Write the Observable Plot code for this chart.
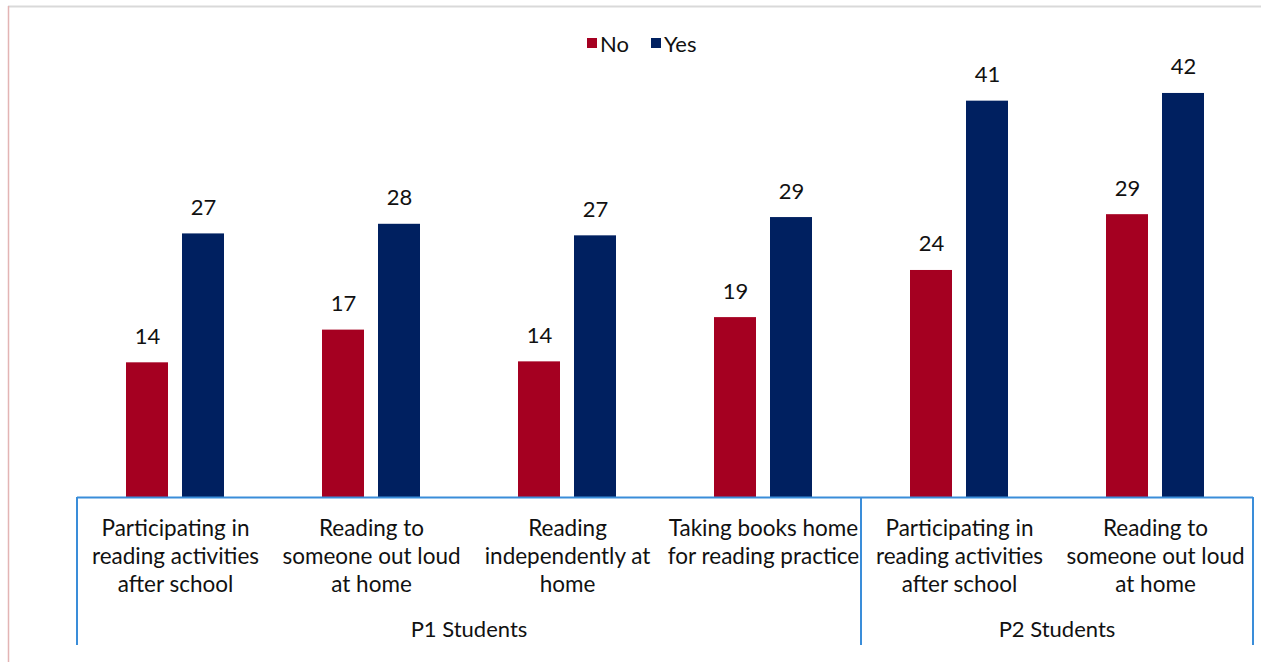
<!DOCTYPE html>
<html><head><meta charset="utf-8">
<script src="https://cdn.jsdelivr.net/npm/d3@7"></script>
<script src="https://cdn.jsdelivr.net/npm/@observablehq/plot@0.6"></script>
<style>body{margin:0;background:#fff;} svg{display:block}</style>
</head><body><div id="chart"></div>
<script>
const categoryKeys = ["p1a", "p1b", "p1c", "p1d", "p2a", "p2b"];
const categoryLabels = [
  "Participating in\nreading activities\nafter school",
  "Reading to\nsomeone out loud\nat home",
  "Reading\nindependently at\nhome",
  "Taking books home\nfor reading practice",
  "Participating in\nreading activities\nafter school",
  "Reading to\nsomeone out loud\nat home"
];
const groupOf = ["P1 Students", "P1 Students", "P1 Students", "P1 Students", "P2 Students", "P2 Students"];
const groups = ["P1 Students", "P2 Students"];
const answers = ["No", "Yes"];
const noValues = [14.0, 17.4, 14.1, 18.7, 23.6, 29.4];
const yesValues = [27.4, 28.4, 27.2, 29.1, 41.2, 42.0];
const colors = ["#a50021", "#002060"];

const rows = [];
categoryKeys.forEach((k, i) => {
  rows.push({key: k, group: groupOf[i], answer: "No", value: noValues[i]});
  rows.push({key: k, group: groupOf[i], answer: "Yes", value: yesValues[i]});
});
const labelOf = Object.fromEntries(categoryKeys.map((k, i) => [k, categoryLabels[i]]));

const W = 1261, H = 662;
const lineColor = "#3a8dd9";
const font = "Lato, 'Open Sans', sans-serif";

const plot = Plot.plot({
  width: W, height: H,
  marginLeft: 77, marginRight: 8, marginTop: 16, marginBottom: 165,
  style: {fontFamily: font, fontSize: "22px", color: "#111", background: "transparent"},
  facet: {marginTop: 0, marginBottom: 0, marginLeft: 0, marginRight: 0},
  fx: {domain: categoryKeys, padding: 0, label: null},
  x: {domain: answers, paddingInner: 0.25, paddingOuter: 0.875, axis: null},
  y: {domain: [0, 50], axis: null},
  color: {domain: answers, range: colors},
  marks: [
    Plot.barY(rows, {fx: "key", x: "answer", y: "value", fill: "answer"}),
    Plot.text(rows, {fx: "key", x: "answer", y: "value", text: d => Math.round(d.value),
      lineAnchor: "bottom", dy: -19, fontSize: 22, fill: "#111"}),
    Plot.ruleY([0], {stroke: lineColor, strokeWidth: 2}),
    Plot.axisFx({anchor: "bottom", tickSize: 0, tickPadding: 19, label: null,
      tickFormat: k => labelOf[k], fontSize: 22.5, lineHeight: 1.245, textOverflow: null})
  ]
});

document.getElementById("chart").appendChild(plot);

const svg = d3.select(plot);
const fx = plot.scale("fx");
const y = plot.scale("y");
const color = plot.scale("color");
const bw = fx.bandwidth;
const y0 = y.apply(0);
const yBottom = H - 17;

// chart frame
svg.append("line").attr("x1", 8).attr("x2", W).attr("y1", 6.5).attr("y2", 6.5)
  .attr("stroke", "#d9d9d9").attr("stroke-width", 2);
svg.append("line").attr("x1", 8.5).attr("x2", 8.5).attr("y1", 6).attr("y2", H)
  .attr("stroke", "#e3b4b4").attr("stroke-width", 1.5);

// group separators and labels
const g = svg.append("g");
const edges = new Set();
groups.forEach(gr => {
  const keys = categoryKeys.filter((k, i) => groupOf[i] === gr);
  const x0 = fx.apply(keys[0]);
  const x1 = fx.apply(keys[keys.length - 1]) + bw;
  edges.add(x0); edges.add(x1);
  g.append("text").attr("x", (x0 + x1) / 2).attr("y", 637)
    .attr("text-anchor", "middle").attr("font-family", font).attr("font-size", 22)
    .attr("fill", "#111").text(gr);
});
edges.forEach(xe => {
  g.append("line").attr("x1", xe).attr("x2", xe).attr("y1", y0).attr("y2", yBottom)
    .attr("stroke", lineColor).attr("stroke-width", 2);
});

// legend
const leg = svg.append("g").attr("font-family", font).attr("font-size", 22)
  .attr("fill", "#111").attr("text-anchor", "start");
const legX = [587, 651];
color.domain.forEach((d, i) => {
  leg.append("rect").attr("x", legX[i]).attr("y", 38).attr("width", 10).attr("height", 10)
    .attr("fill", color.apply(d));
  leg.append("text").attr("x", legX[i] + 13).attr("y", 52).text(d);
});
</script>
</body></html>
